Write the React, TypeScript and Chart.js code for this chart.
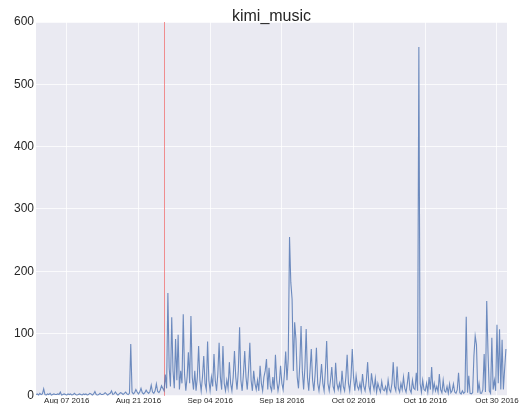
import React, { useEffect, useRef } from "react";
import { Chart, registerables } from "chart.js";

Chart.register(...registerables);

// Four samples per day (00:00, 06:00, 12:00, 18:00), starting Aug 01 2016
const SAMPLES_PER_DAY = 4;

const augValues = [
  2, 3, 1, 4, 2, 3, 11, 2, 1, 3, 2, 4, 1, 2, 3, 2, 2, 3, 2, 6,
  1, 2, 3, 2, 1, 3, 2, 3, 1, 2, 4, 2, 1, 2, 3, 2, 1, 3, 2, 3,
  1, 2, 4, 3, 1, 3, 7, 2, 1, 2, 4, 2, 2, 3, 5, 3, 1, 3, 4, 8,
  2, 3, 6, 3, 1, 3, 5, 4, 2, 4, 6, 3, 2, 4, 83, 6, 3, 5, 10, 6,
  3, 6, 12, 5, 3, 5, 9, 6, 4, 7, 17, 6, 4, 8, 19, 7, 5, 9, 16, 12,
  8, 34, 12, 165, 45, 15, 126, 40, 12, 91, 25, 98, 10, 40, 20, 131,
  35, 8, 30, 70, 20, 128, 30, 10,
];

const sepValues = [
  40, 8, 30, 80, 25, 8, 30, 64, 20, 10, 87, 25, 8, 30, 15, 67,
  25, 8, 35, 85, 30, 10, 80, 20, 8, 25, 12, 54, 20, 8, 30, 72,
  30, 10, 40, 110, 25, 8, 35, 72, 30, 10, 40, 85, 25, 8, 40, 20,
  10, 25, 8, 48, 20, 8, 30, 40, 59, 10, 45, 15, 8, 30, 10, 66,
  25, 8, 20, 48, 20, 10, 35, 71, 25, 60, 255, 182, 155, 40, 118, 91,
  30, 12, 50, 112, 40, 10, 45, 107, 30, 8, 40, 75, 25, 8, 35, 77,
  20, 8, 25, 51, 20, 8, 40, 88, 20, 8, 25, 46, 15, 8, 53, 20,
  10, 20, 8, 40, 15, 8, 30, 66,
];

const octValues = [
  20, 8, 30, 75, 30, 8, 32, 15, 10, 20, 8, 35, 15, 8, 25, 54,
  15, 6, 36, 20, 10, 28, 6, 20, 12, 6, 23, 10, 8, 15, 5, 25,
  10, 6, 20, 54, 15, 8, 47, 12, 6, 20, 10, 30, 12, 6, 20, 38,
  10, 5, 25, 12, 10, 37, 8, 560, 20, 6, 25, 10, 8, 20, 6, 30,
  10, 46, 8, 20, 8, 15, 6, 35, 10, 5, 25, 8, 6, 15, 4, 19,
  5, 8, 19, 6, 4, 10, 37, 5, 3, 8, 4, 6, 127, 5, 32, 4,
  3, 5, 64, 96, 82, 5, 20, 4, 4, 10, 67, 6, 152, 70, 8, 4,
  93, 10, 25, 8, 114, 20, 107, 10, 90, 10, 43, 75,
];

// x tick positions in days since Aug 01 2016, and their labels
const tickDays = [6, 20, 34, 48, 62, 76, 90];
const tickLabels = [
  "Aug 07 2016",
  "Aug 21 2016",
  "Sep 04 2016",
  "Sep 18 2016",
  "Oct 02 2016",
  "Oct 16 2016",
  "Oct 30 2016",
];
const markerDay = 25; // red vertical line (Aug 26 2016)
const xMaxDay = 91.96;
const yTicks = [0, 100, 200, 300, 400, 500, 600];
const titleText = "kimi_music";

const FONT = "'Liberation Sans', Arial, 'DejaVu Sans', sans-serif";
const TEXT_COLOR = "#262626";

export default function App() {
  const canvasRef = useRef<HTMLCanvasElement | null>(null);

  useEffect(() => {
    const canvas = canvasRef.current;
    if (!canvas) return;
    const all = [...augValues, ...sepValues, ...octValues];
    const points = all.map((v, i) => ({ x: i / SAMPLES_PER_DAY, y: v }));

    const bgPlugin = {
      id: "bgPlugin",
      beforeDraw(chart: any) {
        const { ctx, chartArea } = chart;
        ctx.save();
        ctx.fillStyle = "#EAEAF2";
        ctx.fillRect(
          chartArea.left,
          chartArea.top,
          chartArea.right - chartArea.left,
          chartArea.bottom - chartArea.top
        );
        ctx.restore();
      },
      beforeDatasetsDraw(chart: any) {
        const { ctx, chartArea, scales } = chart;
        const x = Math.round(scales.x.getPixelForValue(markerDay)) + 0.5;
        ctx.save();
        ctx.strokeStyle = "rgba(240,110,110,0.75)";
        ctx.lineWidth = 1;
        ctx.beginPath();
        ctx.moveTo(x, chartArea.top);
        ctx.lineTo(x, chartArea.bottom);
        ctx.stroke();
        ctx.restore();
      },
      afterDraw(chart: any) {
        const { ctx, chartArea } = chart;
        ctx.save();
        ctx.fillStyle = TEXT_COLOR;
        ctx.font = `16px ${FONT}`;
        ctx.textAlign = "center";
        ctx.textBaseline = "alphabetic";
        ctx.fillText(titleText, (chartArea.left + chartArea.right) / 2, 20.5);
        ctx.restore();
      },
    };

    const chart = new Chart(canvas, {
      type: "line",
      data: {
        datasets: [
          {
            data: points,
            borderColor: "rgba(76,114,176,0.8)",
            borderWidth: 1.1,
            pointRadius: 0,
            tension: 0,
            fill: false,
          },
        ],
      },
      options: {
        responsive: false,
        animation: false,
        devicePixelRatio: 1,
        layout: { padding: { top: 22, right: 11.5, left: 0, bottom: 0 } },
        plugins: {
          legend: { display: false },
          title: { display: false },
          tooltip: { enabled: false },
        },
        scales: {
          x: {
            type: "linear",
            min: 0,
            max: xMaxDay,
            afterBuildTicks: (scale: any) => {
              scale.ticks = tickDays.map((v) => ({ value: v }));
            },
            afterFit: (scale: any) => {
              scale.height = 8;
            },
            ticks: {
              autoSkip: false,
              maxRotation: 0,
              minRotation: 0,
              padding: 0,
              color: TEXT_COLOR,
              font: { size: 8, family: FONT },
              callback: (value: any) => {
                const i = tickDays.indexOf(Number(value));
                return i >= 0 ? tickLabels[i] : "";
              },
            },
            grid: { color: "rgba(255,255,255,0.75)", lineWidth: 1, drawTicks: false },
            border: { display: false },
          },
          y: {
            min: 0,
            max: 600,
            afterBuildTicks: (scale: any) => {
              scale.ticks = yTicks.map((v) => ({ value: v }));
            },
            afterFit: (scale: any) => {
              scale.width = 36;
            },
            ticks: {
              padding: 2,
              color: TEXT_COLOR,
              font: { size: 12, family: FONT },
            },
            grid: { color: "rgba(255,255,255,0.75)", lineWidth: 1, drawTicks: false },
            border: { display: false },
          },
        },
      },
      plugins: [bgPlugin],
    });

    return () => chart.destroy();
  }, []);

  return (
    <div style={{ position: "fixed", left: 0, top: 0, width: 519, height: 405 }}>
      <canvas ref={canvasRef} width={519} height={405} style={{ display: "block" }} />
    </div>
  );
}
